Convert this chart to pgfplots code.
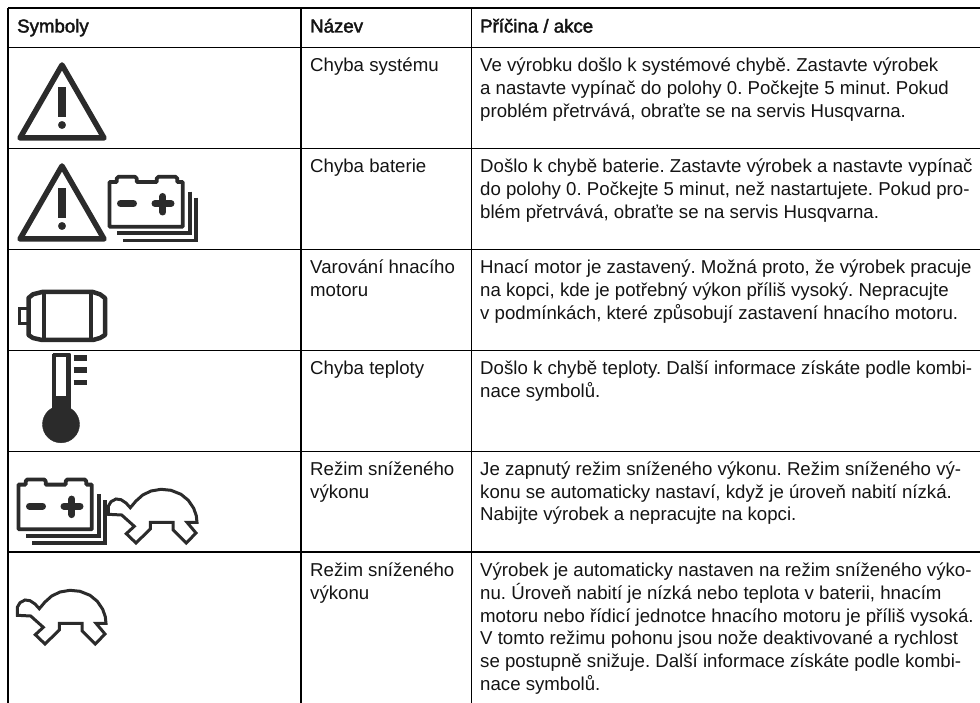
\documentclass[border=0pt]{standalone}
\usepackage{fontspec}
\setmainfont{Liberation Sans}
\newfontfamily\hb[FakeBold=2.2]{Liberation Sans}
\usepackage{pgfplots}
\usepackage{pgfplotstable}
\pgfplotsset{compat=1.18}
\frenchspacing
\definecolor{ink}{HTML}{141414}
\definecolor{ic}{HTML}{2B2B2B}
\pgfplotstableread{
20 138
62 65
104 138
20 138
62 65
}\tritab
\pgfplotstableread{
58.3 87
66 87
66 116.7
58.3 116.7
}\exctab
\pgfplotstableread{
109.5 226.7
109.5 182
116.7 182
116.7 178.5
118.5 176.8
135 176.8
136.7 178.5
136.7 182
156.7 182
156.7 178.5
158.5 176.8
175.5 176.8
177.3 178.5
177.3 182
182.8 182
182.8 226.7
109.5 226.7
109.5 182
}\battab
\pgfplotstableread{
190 191.7
190 233.3
117.3 233.3
}\bataa
\pgfplotstableread{
196 197.7
196 240.5
123.3 240.5
}\batab
\pgfplotstableread{
120.5 203.5
133.5 203.5
}\batminus
\pgfplotstableread{
155 203.5
171 203.5
}\batplush
\pgfplotstableread{
162.9 196.5
162.9 212
}\batplusv
\pgfplotstableread{
17.3 615.3
17.3 607.3
20 602.7
25 600
30 600.7
35 604
39.3 608.7
45 602
51.7 596
60 592
70 590.3
80 591.3
90 595.3
97.3 601.3
102.7 609.3
105.3 616.7
106 623.3
96 623.3
105 634
95.3 644
82 630.7
82 623.3
59.3 623.3
59.3 630
45 644
35.3 634.7
43.3 627.3
30.7 616
17.3 615.3
17.3 607.3
}\turtab
\newcommand\Tri[1]{%
  \addplot[ic,line width=5.5pt,line join=round,no marks,forget plot] table[x index=0,y expr=\thisrowno{1}+#1]{\tritab};
  \addplot[draw=none,fill=ic,no marks,forget plot] table[x index=0,y expr=\thisrowno{1}+#1]{\exctab};
  \addplot[only marks,mark=*,mark size=3.7pt,ic,forget plot] coordinates {(62,125+#1)};
}
\newcommand\Bat[2]{%
  \addplot[ic,line width=3.8pt,line join=round,no marks,forget plot] table[x expr=\thisrowno{0}+#1,y expr=\thisrowno{1}+#2]{\battab};
  \addplot[ic,line width=3.8pt,line join=miter,no marks,forget plot] table[x expr=\thisrowno{0}+#1,y expr=\thisrowno{1}+#2]{\bataa};
  \addplot[ic,line width=3.8pt,line join=miter,no marks,forget plot] table[x expr=\thisrowno{0}+#1,y expr=\thisrowno{1}+#2]{\batab};
  \addplot[ic,line width=7pt,line cap=round,no marks,forget plot] table[x expr=\thisrowno{0}+#1,y expr=\thisrowno{1}+#2]{\batminus};
  \addplot[ic,line width=7pt,line cap=round,no marks,forget plot] table[x expr=\thisrowno{0}+#1,y expr=\thisrowno{1}+#2]{\batplush};
  \addplot[ic,line width=7pt,line cap=round,no marks,forget plot] table[x expr=\thisrowno{0}+#1,y expr=\thisrowno{1}+#2]{\batplusv};
}
\newcommand\Tur[2]{%
  \addplot[ic,line width=3pt,line join=miter,no marks,forget plot] table[x expr=\thisrowno{0}+#1,y expr=\thisrowno{1}+#2]{\turtab};
}
\newcommand\T[3]{\node[anchor=base west,inner sep=0pt,text=ink] at (axis cs:#1,#2) {#3};}
\newcommand\Ls[1]{\addplot[black,line width=1.3pt,no marks,forget plot] coordinates {#1};}
\begin{document}
\begin{tikzpicture}
\begin{axis}[
  scale only axis,width=980pt,height=703pt,
  xmin=0,xmax=980,ymin=0,ymax=703,y dir=reverse,
  axis lines=none,clip=true,
  font=\fontsize{18.65}{22.67}\selectfont\frenchspacing]
% rules
\addplot[draw=none,forget plot] coordinates {(0,0)(980,703)};
\Ls{(8,8)(980,8)}
\Ls{(8,47.7)(980,47.7)}
\Ls{(8,148.5)(980,148.5)}
\Ls{(8,249.4)(980,249.4)}
\Ls{(8,350.3)(980,350.3)}
\Ls{(8,451.3)(980,451.3)}
\Ls{(8,552)(980,552)}
\Ls{(8,8)(8,703)}
\Ls{(301,8)(301,703)}
\Ls{(471.7,8)(471.7,703)}
% icons
\Tri{0}
\Tri{101}
\Bat{0}{0}
\Bat{-91}{302.6}
\Tur{91}{-101}
\Tur{0}{0}
% motor
\addplot[ic,line width=3pt,no marks,forget plot] coordinates {(28,308.3)(19.8,308.3)(19.8,323.5)(28,323.5)};
\addplot[ic,line width=4.5pt,line join=round,no marks,forget plot] coordinates {(28.5,298)(33,294.3)(42,292)(93,292)(100,294.3)(105,298)(105,335)(100,338)(93,340)(42,340)(33,338)(28.5,335)(28.5,298)(33,294.3)};
\addplot[ic,line width=4pt,no marks,forget plot] coordinates {(44,292)(44,340)};
\addplot[ic,line width=4pt,no marks,forget plot] coordinates {(91,292)(91,340)};
% thermometer
\addplot[draw=ic,fill=ic,line width=2pt,line join=round,no marks,forget plot] coordinates {(52.7,354.3)(69.7,354.3)(69.7,420)(52.7,420)(52.7,354.3)};
\addplot[only marks,mark=*,mark size=18.5pt,ic,forget plot] coordinates {(61,424.3)};
\addplot[draw=none,fill=white,no marks,forget plot] coordinates {(56,357.3)(66,357.3)(66,396)(56,396)};
\addplot[ic,line width=5.5pt,no marks,forget plot] coordinates {(73.5,358)(86.5,358)};
\addplot[ic,line width=5.5pt,no marks,forget plot] coordinates {(73.5,370)(86.5,370)};
\addplot[ic,line width=5.5pt,no marks,forget plot] coordinates {(73.5,382.5)(86.5,382.5)};
% header
\T{17}{32.5}{\hb Symboly}
\T{310}{32.5}{\hb Název}
\T{480}{32.5}{\hb Příčina / akce}
% row 1
\T{310}{72}{Chyba systému}
\T{480}{72}{Ve výrobku došlo k systémové chybě. Zastavte výrobek}
\T{480}{94.7}{a nastavte vypínač do polohy 0. Počkejte 5 minut. Pokud}
\T{480}{117.3}{problém přetrvává, obraťte se na servis Husqvarna.}
% row 2
\T{310}{172.8}{Chyba baterie}
\T{480}{172.8}{Došlo k chybě baterie. Zastavte výrobek a nastavte vypínač}
\T{480}{195.5}{do polohy 0. Počkejte 5 minut, než nastartujete. Pokud pro-}
\T{480}{218.2}{blém přetrvává, obraťte se na servis Husqvarna.}
% row 3
\T{310}{273.8}{Varování hnacího}
\T{310}{296.5}{motoru}
\T{480}{273.8}{Hnací motor je zastavený. Možná proto, že výrobek pracuje}
\T{480}{296.5}{na kopci, kde je potřebný výkon příliš vysoký. Nepracujte}
\T{480}{319.2}{v podmínkách, které způsobují zastavení hnacího motoru.}
% row 4
\T{310}{374.8}{Chyba teploty}
\T{480}{374.8}{Došlo k chybě teploty. Další informace získáte podle kombi-}
\T{480}{397.5}{nace symbolů.}
% row 5
\T{310}{475.5}{Režim sníženého}
\T{310}{498.2}{výkonu}
\T{480}{475.5}{Je zapnutý režim sníženého výkonu. Režim sníženého vý-}
\T{480}{498.2}{konu se automaticky nastaví, když je úroveň nabití nízká.}
\T{480}{520.9}{Nabijte výrobek a nepracujte na kopci.}
% row 6
\T{310}{576.7}{Režim sníženého}
\T{310}{599.4}{výkonu}
\T{480}{576.7}{Výrobek je automaticky nastaven na režim sníženého výko-}
\T{480}{599.4}{nu. Úroveň nabití je nízká nebo teplota v baterii, hnacím}
\T{480}{622}{motoru nebo řídicí jednotce hnacího motoru je příliš vysoká.}
\T{480}{644.7}{V tomto režimu pohonu jsou nože deaktivované a rychlost}
\T{480}{667.4}{se postupně snižuje. Další informace získáte podle kombi-}
\T{480}{690}{nace symbolů.}
\end{axis}
\end{tikzpicture}
\end{document}
